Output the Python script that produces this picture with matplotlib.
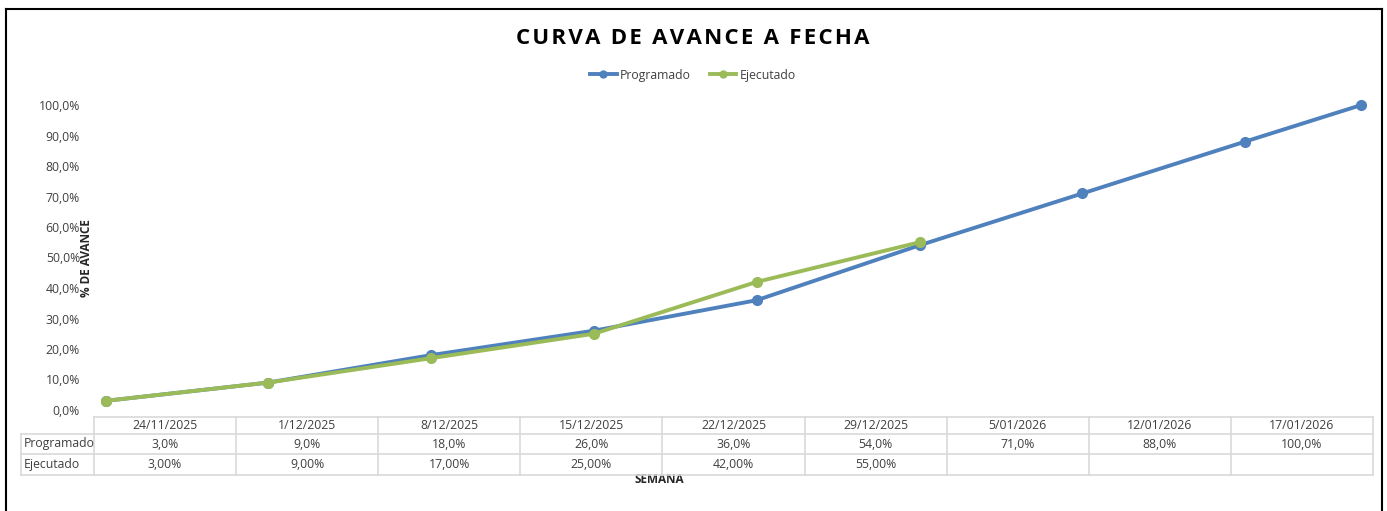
import matplotlib
matplotlib.use("Agg")
import matplotlib.pyplot as plt
import matplotlib.dates as mdates
from matplotlib.lines import Line2D
import datetime as dt

plt.rcParams['font.family'] = ['Open Sans', 'DejaVu Sans']

fechas = ["24/11/2025", "1/12/2025", "8/12/2025", "15/12/2025", "22/12/2025",
          "29/12/2025", "5/01/2026", "12/01/2026", "17/01/2026"]
programado = [3.0, 9.0, 18.0, 26.0, 36.0, 54.0, 71.0, 88.0, 100.0]
ejecutado = [3.0, 9.0, 17.0, 25.0, 42.0, 55.0]
prog_labels = ["3,0%", "9,0%", "18,0%", "26,0%", "36,0%", "54,0%", "71,0%", "88,0%", "100,0%"]
ejec_labels = ["3,00%", "9,00%", "17,00%", "25,00%", "42,00%", "55,00%", "", "", ""]
yticks = [0, 10, 20, 30, 40, 50, 60, 70, 80, 90, 100]
titulo = "CURVA DE AVANCE A FECHA"

W, H = 1387, 511
fig = plt.figure(figsize=(W / 100, H / 100), dpi=100)

def fx(px):
    return px / W

def fy(py):
    return 1 - py / H

ax_l, ax_r, ax_t, ax_b = 94, 1373, 105, 410
ax = fig.add_axes([fx(ax_l), fy(ax_b), fx(ax_r - ax_l), fy(ax_t) - fy(ax_b)])

dates = [dt.datetime.strptime(f, "%d/%m/%Y") for f in fechas]
xn = mdates.date2num(dates)

blue = "#4F81BD"
green = "#9BBB59"
ax.plot(xn, programado, color=blue, lw=2.8, marker="o", ms=7, label="Programado", zorder=3, clip_on=False)
ax.plot(xn[:len(ejecutado)], ejecutado, color=green, lw=2.8, marker="o", ms=7, label="Ejecutado", zorder=4, clip_on=False)

ax.set_xlim(xn[0] - 0.5, xn[-1] + 0.5)
ax.set_ylim(0, 100)
ax.set_yticks(yticks)
ax.set_yticklabels([f"{v:.1f}%".replace(".", ",") for v in yticks], fontsize=8.8, color="#404040")
ax.tick_params(axis="y", length=0, pad=10)
ax.set_xticks([])
for s in ax.spines.values():
    s.set_visible(False)
ax.patch.set_alpha(0)

# Y label
fig.text(fx(86), fy(258), "% DE AVANCE", rotation=90, ha="center", va="center",
         fontsize=8.5, fontweight="bold", color="#262626")

# Title with slight letter spacing
fig.text(fx(693), fy(38), "\u200a".join(titulo),
         ha="center", va="center", fontsize=16, fontweight="bold", color="#000000",
         family=['Open Sans', 'DejaVu Sans'])

# Legend
handles = [Line2D([], [], color=blue, lw=2.8, marker="o", ms=5),
           Line2D([], [], color=green, lw=2.8, marker="o", ms=5)]
fig.legend(handles, ["Programado", "Ejecutado"], loc="center", bbox_to_anchor=(fx(693), fy(75)),
           ncol=2, frameon=False, fontsize=8.8, handlelength=2.2, handletextpad=0.3,
           columnspacing=1.5, labelcolor="#404040")

# Data table
grid = "#D9D9D9"
row_y = [417, 434, 454, 475]
lab_l = 21
ncol = len(fechas)
cw = (ax_r - ax_l) / ncol
col_x = [ax_l + i * cw for i in range(ncol + 1)]

def hline(y, x0, x1):
    fig.add_artist(Line2D([fx(x0), fx(x1)], [fy(y), fy(y)], color=grid, lw=1.2))

def vline(x, y0, y1):
    fig.add_artist(Line2D([fx(x), fx(x)], [fy(y0), fy(y1)], color=grid, lw=1.2))

hline(row_y[0], ax_l, ax_r)
for y in row_y[1:]:
    hline(y, lab_l, ax_r)
vline(lab_l, row_y[1], row_y[3])
for x in col_x:
    vline(x, row_y[0], row_y[3])

tc = "#404040"
fs = 8.8
for i in range(ncol):
    cx = (col_x[i] + col_x[i + 1]) / 2
    fig.text(fx(cx), fy((row_y[0] + row_y[1]) / 2), fechas[i], ha="center", va="center", fontsize=fs, color=tc)
    fig.text(fx(cx), fy((row_y[1] + row_y[2]) / 2), prog_labels[i], ha="center", va="center", fontsize=fs, color=tc)
    fig.text(fx(cx), fy((row_y[2] + row_y[3]) / 2), ejec_labels[i], ha="center", va="center", fontsize=fs, color=tc)
fig.text(fx(lab_l + 3), fy((row_y[1] + row_y[2]) / 2), "Programado", ha="left", va="center", fontsize=fs, color=tc)
fig.text(fx(lab_l + 3), fy((row_y[2] + row_y[3]) / 2), "Ejecutado", ha="left", va="center", fontsize=fs, color=tc)

# X label (partly hidden under table)
fig.text(fx(659), fy(479), "SEMANA", ha="center", va="center", fontsize=8.5, fontweight="bold", color="#262626", zorder=0)

# Frame border
for xs, ys in [((6, 6), (9, 520)), ((6, 1382), (9, 9)), ((1382, 1382), (9, 520))]:
    fig.add_artist(Line2D([fx(xs[0]), fx(xs[1])], [fy(ys[0]), fy(ys[1])], color="#000000", lw=1.5))

fig.savefig("out.png", dpi=100)
